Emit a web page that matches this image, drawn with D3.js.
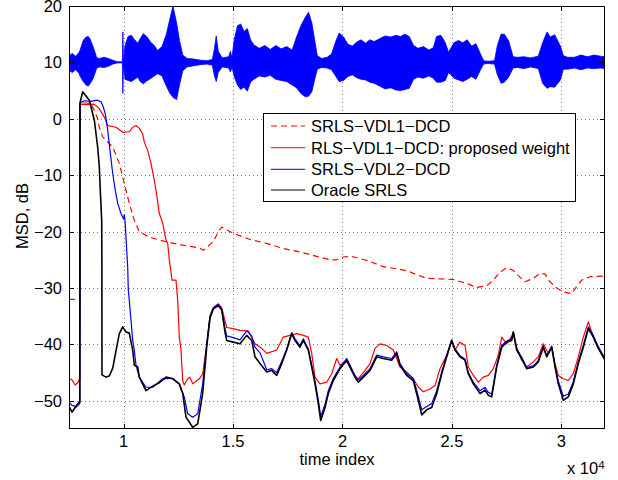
<!DOCTYPE html>
<html>
<head>
<meta charset="utf-8">
<script src="https://cdn.jsdelivr.net/npm/d3@7"></script>
<style>
  body { margin: 0; background: #fff; }
  text { font-family: "Liberation Sans", Arial, Helvetica, sans-serif; fill: #000; }
</style>
</head>
<body>
<div id="chart"></div>
<script>
// ---- data ----
var xTicks = [10000, 15000, 20000, 25000, 30000];
var xTickLabels = ['1', '1.5', '2', '2.5', '3'];
var yTicks = [-50, -40, -30, -20, -10, 0, 10, 20];
var yTickLabels = ['\u221250', '\u221240', '\u221230', '\u221220', '\u221210', '0', '10', '20'];

var legendNames = ['SRLS\u2212VDL1\u2212DCD', 'RLS\u2212VDL1\u2212DCD: proposed weight', 'SRLS\u2212VDL2\u2212DCD', 'Oracle SRLS'];

// speech signal envelope: [time, upper, lower]
var speech = [
	[7500, 11.2, 8.6], [7650, 11.6, 8.2], [7800, 11.1, 8.7], [7950, 11.7, 8.1],
	[8000, 12.1, 7.6], [8150, 13.9, 6.6], [8280, 14.5, 6.0], [8380, 14.6, 5.8], [8460, 14.2, 6.2],
	[8610, 12.7, 7.2], [8770, 10.8, 9.0], [8900, 10.7, 9.2], [9100, 10.9, 9.1], [9300, 10.7, 9.3],
	[9500, 10.4, 9.7], [9700, 10.1, 9.9], [9940, 10.1, 9.9], [9960, 15.4, 4.5], [9990, 10.3, 9.7],
	[10060, 13.0, 7.0], [10200, 14.6, 6.8], [10350, 14.8, 6.6], [10500, 14.0, 7.0], [10650, 13.4, 7.4],
	[10750, 14.2, 6.6], [10900, 15.1, 6.2], [11050, 14.6, 6.7], [11250, 13.5, 7.2], [11400, 13.0, 7.6],
	[11550, 12.1, 8.0], [11750, 12.8, 7.6], [11950, 15.0, 5.8], [12100, 17.5, 4.6], [12250, 20.0, 3.8],
	[12420, 17.0, 3.4], [12550, 13.9, 6.0], [12700, 11.3, 8.5], [12900, 10.7, 9.2], [13200, 10.6, 9.4],
	[13500, 10.4, 9.6], [13800, 10.3, 9.7], [14050, 10.5, 9.5], [14150, 12.5, 7.6], [14230, 14.7, 6.6],
	[14320, 12.0, 8.2], [14500, 10.8, 9.2], [14800, 11.0, 9.0], [14880, 12.0, 8.3], [14950, 10.8, 9.2],
	[15050, 14.0, 7.5], [15200, 16.5, 6.0], [15350, 16.8, 5.2], [15500, 15.5, 5.6], [15650, 16.0, 4.9],
	[15800, 14.0, 6.5], [15950, 13.1, 7.0], [16200, 12.5, 7.6], [16450, 13.0, 7.4], [16700, 12.3, 7.7],
	[16950, 13.0, 7.0], [17200, 12.4, 6.8], [17450, 12.8, 6.6], [17700, 12.2, 6.0], [17900, 14.5, 5.5],
	[18100, 16.5, 4.5], [18300, 18.0, 3.9], [18450, 18.9, 4.0], [18600, 17.0, 4.8], [18750, 13.5, 7.3],
	[18850, 11.2, 8.8], [19050, 10.7, 9.1], [19300, 10.9, 9.0], [19500, 11.5, 8.7], [19700, 13.8, 7.5],
	[19850, 15.2, 6.6], [20050, 14.5, 6.8], [20250, 13.2, 7.5], [20450, 12.9, 7.8], [20650, 13.6, 7.3],
	[20850, 14.0, 7.0], [21050, 13.4, 6.9], [21250, 14.0, 6.5], [21450, 13.7, 6.3], [21700, 14.2, 5.8],
	[21950, 14.7, 5.3], [22200, 14.5, 5.5], [22450, 14.8, 5.1], [22650, 14.6, 5.0], [22850, 15.0, 5.2],
	[23050, 14.6, 5.4], [23250, 13.0, 7.0], [23450, 12.5, 7.4], [23700, 12.8, 7.2], [23950, 12.2, 7.6],
	[24150, 12.6, 7.2], [24300, 14.6, 6.5], [24500, 14.8, 6.5], [24700, 13.5, 6.8], [24850, 11.8, 8.2],
	[24950, 12.5, 7.8], [25100, 13.5, 7.2], [25300, 13.9, 6.9], [25500, 13.5, 6.6], [25700, 14.0, 7.0],
	[25900, 12.9, 7.5], [26100, 13.3, 7.0], [26300, 11.6, 8.6], [26450, 10.3, 9.7], [26650, 10.2, 9.8],
	[26950, 10.3, 9.7], [27080, 13.0, 7.8], [27250, 15.0, 6.3], [27400, 15.0, 6.5], [27600, 13.8, 7.4],
	[27800, 11.0, 9.0], [28000, 10.9, 9.1], [28300, 11.0, 8.9], [28600, 10.8, 9.2], [28950, 11.1, 8.9],
	[29150, 13.5, 6.3], [29350, 15.4, 5.4], [29500, 14.5, 5.7], [29700, 14.9, 5.6], [29950, 13.0, 6.8],
	[30100, 11.2, 8.8], [30300, 10.9, 8.8], [30600, 10.9, 9.0], [30900, 11.3, 8.7], [31200, 11.0, 9.0],
	[31500, 11.3, 8.9], [31800, 11.1, 9.0], [32000, 11.0, 8.9]
];

// SRLS-VDL1-DCD (red dashed): [time, MSD dB]
var srlsVdl1 = [
	[7500, -32.0], [7995, -32.0], [8003, 2.8], [8300, 2.8], [8500, 2.7], [8656, 1.5], [8812, 0.0],
	[8885, -1.5], [9040, -3.2], [9191, -3.8], [9498, -5.0], [9799, -7.9], [10028, -11.5], [10256, -15.0],
	[10485, -18.0], [10713, -20.0], [11171, -21.0], [11934, -21.8], [12697, -22.4], [13456, -22.9],
	[13639, -23.3], [14096, -21.8], [14325, -20.0], [14480, -19.2], [14709, -19.7], [15010, -20.3],
	[15774, -21.4], [16537, -22.1], [17296, -23.0], [18059, -23.6], [18823, -24.4], [19430, -25.0],
	[19737, -25.0], [20038, -24.5], [20422, -24.4], [21108, -25.1], [21867, -26.2], [22630, -26.7],
	[23010, -27.0], [23238, -27.4], [23851, -28.3], [24609, -28.4], [25066, -28.5], [25679, -29.2],
	[26136, -29.9], [26593, -29.6], [26895, -28.6], [27201, -27.2], [27507, -26.4], [27809, -26.9],
	[28037, -27.8], [28343, -28.9], [28722, -28.3], [29029, -27.4], [29258, -27.5], [29486, -28.9],
	[29792, -30.0], [30094, -30.7], [30478, -31.0], [30707, -29.7], [30935, -28.6], [31315, -28.0],
	[31923, -27.9], [32000, -27.9]
];

// RLS-VDL1-DCD: proposed weight (red solid)
var rlsVdl1 = [
	[7500, -46.0], [7640, -46.3], [7780, -47.2], [7900, -46.8], [7995, -46.0], [8003, 2.6], [8300, 2.5],
	[8650, 2.6], [8734, 2.3], [8885, 1.8], [9114, 0.3], [9269, -1.2], [9648, -1.5], [9955, -2.4],
	[10256, -2.3], [10412, -1.5], [10563, -1.2], [10713, -1.7], [10869, -2.7], [10942, -4.1],
	[11097, -5.6], [11248, -7.9], [11399, -10.9], [11509, -13.5], [11628, -16.8], [11783, -18.5],
	[11934, -21.5], [12012, -22.1], [12085, -25.0], [12208, -28.6], [12391, -28.6], [12469, -32.2],
	[12542, -38.7], [12620, -41.0], [12697, -46.4], [12770, -47.2], [12926, -46.1], [13031, -45.8],
	[13154, -47.0], [13456, -46.1], [13611, -45.2], [13762, -41.0], [13945, -35.0], [14096, -33.5],
	[14325, -32.8], [14480, -33.5], [14709, -37.0], [15010, -37.2], [15316, -37.5], [15696, -37.6],
	[16002, -39.9], [16308, -40.7], [16537, -41.6], [16994, -41.0], [17296, -38.7], [17602, -38.4],
	[17908, -38.1], [18210, -38.4], [18439, -38.7], [18594, -41.6], [18745, -45.8], [18973, -47.0],
	[19279, -46.7], [19508, -45.2], [19737, -42.5], [19888, -43.7], [20194, -43.0], [20495, -45.2],
	[20651, -46.4], [20953, -45.0], [21259, -43.4], [21487, -40.7], [21716, -39.9], [22022, -40.2],
	[22324, -41.0], [22630, -44.0], [22937, -44.9], [23238, -46.1], [23467, -47.6], [23695, -48.4],
	[24001, -47.9], [24230, -47.3], [24458, -44.3], [24765, -41.9], [24993, -39.3], [25144, -41.0],
	[25373, -39.6], [25601, -40.2], [25752, -44.0], [25981, -45.5], [26209, -46.7], [26437, -45.8],
	[26666, -45.5], [26895, -44.3], [27123, -41.9], [27278, -38.7], [27507, -39.9], [27809, -38.1],
	[27964, -40.5], [28192, -42.8], [28421, -44.0], [28722, -43.1], [28951, -42.2], [29180, -39.9],
	[29409, -41.6], [29564, -40.5], [29715, -43.4], [29865, -45.5], [30094, -46.1], [30323, -46.4],
	[30551, -45.2], [30780, -42.2], [31008, -38.7], [31237, -36.0], [31466, -38.7], [31695, -40.5],
	[32000, -42.5]
];

// SRLS-VDL2-DCD (blue)
var srlsVdl2 = [
	[7500, -50.3], [7640, -50.8], [7800, -51.0], [7995, -50.0], [8003, 2.8], [8200, 3.2], [8500, 3.1],
	[8800, 3.3], [8963, 3.0], [9040, 2.4], [9159, 0.9], [9269, -2.0], [9374, -5.6], [9498, -9.7],
	[9616, -12.7], [9726, -15.0], [9877, -16.8], [10000, -17.8], [10028, -17.0], [10060, -18.0],
	[10106, -21.0], [10183, -26.3], [10211, -30.4], [10256, -32.2], [10334, -35.7], [10412, -39.3],
	[10485, -41.0], [10563, -43.7], [10713, -45.8], [11020, -47.6], [11326, -47.6], [11783, -46.1],
	[12240, -46.0], [12542, -47.0], [12770, -49.3], [12926, -52.3], [13154, -52.9], [13383, -52.3],
	[13611, -47.0], [13762, -41.1], [13945, -35.0], [14096, -33.5], [14325, -32.9], [14480, -33.7],
	[14631, -37.2], [14709, -38.5], [15010, -38.8], [15316, -39.2], [15623, -37.6], [15851, -38.5],
	[16002, -40.5], [16231, -41.5], [16368, -42.8], [16537, -44.5], [16766, -44.3], [16994, -45.0],
	[17223, -43.0], [17452, -40.8], [17680, -37.9], [17831, -39.0], [18059, -40.2], [18210, -39.0],
	[18439, -40.8], [18594, -43.7], [18745, -46.5], [18896, -49.8], [19005, -52.8], [19202, -50.6],
	[19353, -48.2], [19581, -46.0], [19888, -44.0], [20194, -42.5], [20422, -44.3], [20573, -45.5],
	[20724, -46.3], [20953, -45.5], [21259, -44.3], [21565, -41.9], [21867, -42.2], [22251, -42.5],
	[22479, -41.3], [22630, -43.4], [22937, -45.2], [23238, -46.0], [23467, -49.2], [23622, -51.6],
	[23851, -51.0], [24079, -50.5], [24308, -48.2], [24536, -44.9], [24765, -41.9], [24993, -39.2],
	[25144, -40.8], [25373, -42.0], [25601, -42.6], [25752, -45.0], [25981, -46.7], [26287, -48.2],
	[26515, -47.6], [26666, -48.5], [26822, -48.8], [27050, -43.7], [27278, -40.2], [27507, -39.4],
	[27735, -39.0], [27809, -37.8], [27964, -40.8], [28192, -42.3], [28421, -44.1], [28722, -43.8],
	[28951, -42.9], [29180, -40.3], [29336, -42.0], [29564, -40.3], [29715, -43.7], [29865, -46.5],
	[30094, -49.2], [30323, -48.8], [30551, -46.6], [30780, -43.1], [31008, -40.2], [31237, -36.9],
	[31466, -38.4], [31695, -40.4], [32000, -42.6]
];

// Oracle SRLS (black)
var oracle = [
	[7500, -51.0], [7640, -52.0], [7780, -51.2], [7950, -50.6], [7995, -50.3], [8003, 2.8], [8126, 4.8],
	[8430, 3.3], [8660, -0.3], [8810, -5.0], [8885, -8.5], [8930, -12.7], [8995, -18.0], [9003, -25.0],
	[9008, -45.4], [9190, -45.8], [9340, -45.6], [9500, -44.2], [9650, -41.1], [9800, -38.1],
	[9955, -36.9], [10106, -37.8], [10256, -38.0], [10412, -41.0], [10485, -43.7], [10640, -44.0],
	[10713, -45.8], [11020, -48.2], [11326, -47.4], [11630, -46.8], [11934, -45.8], [12240, -46.1],
	[12542, -47.0], [12697, -48.7], [12848, -52.9], [13154, -54.7], [13383, -54.1], [13611, -48.7],
	[13794, -40.5], [13945, -35.3], [14096, -33.7], [14325, -33.1], [14480, -33.9], [14631, -37.8],
	[14709, -39.3], [15010, -39.6], [15316, -39.9], [15623, -38.4], [15851, -39.3], [16002, -42.2],
	[16231, -43.4], [16537, -44.9], [16766, -44.6], [16994, -45.5], [17223, -43.4], [17452, -41.0],
	[17680, -38.1], [17831, -39.3], [18059, -40.5], [18210, -39.3], [18439, -41.0], [18594, -44.0],
	[18745, -47.0], [18896, -50.5], [19005, -53.5], [19202, -51.2], [19353, -48.7], [19581, -46.4],
	[19888, -44.3], [20194, -42.8], [20422, -44.6], [20573, -45.8], [20724, -46.7], [20953, -45.8],
	[21259, -44.6], [21565, -42.2], [21867, -42.5], [22251, -42.8], [22479, -41.6], [22630, -43.7],
	[22937, -45.5], [23238, -46.4], [23467, -49.9], [23622, -52.5], [23851, -51.6], [24079, -51.2],
	[24308, -48.7], [24536, -45.2], [24765, -42.2], [24993, -39.3], [25144, -41.0], [25373, -42.2],
	[25601, -42.8], [25752, -45.2], [25981, -47.0], [26287, -48.7], [26515, -48.1], [26666, -49.0],
	[26822, -49.3], [27050, -44.0], [27278, -40.5], [27507, -39.6], [27735, -39.3], [27809, -37.8],
	[27964, -41.0], [28192, -42.5], [28421, -44.3], [28722, -44.0], [28951, -43.1], [29180, -40.5],
	[29336, -42.2], [29564, -40.5], [29715, -44.0], [29865, -47.0], [30094, -49.9], [30323, -49.3],
	[30551, -47.0], [30780, -43.4], [31008, -40.5], [31237, -37.2], [31466, -38.7], [31695, -40.7],
	[32000, -42.8]
];

// ---- layout ----
var W = 618, H = 480;
var pLeft = 69, pRight = 605, pTop = 6, pBottom = 429;

var svg = d3.select('#chart').append('svg')
	.attr('width', W)
	.attr('height', H);

var x = d3.scaleLinear().domain([7500, 32000]).range([pLeft, pRight]);
var y = d3.scaleLinear().domain([-55, 20]).range([pBottom, pTop]);

svg.append('defs').append('clipPath').attr('id', 'plotClip')
	.append('rect')
	.attr('x', pLeft).attr('y', pTop)
	.attr('width', pRight - pLeft).attr('height', pBottom - pTop);

// grid
var grid = svg.append('g').attr('class', 'grid');
grid.selectAll('.gx').data(xTicks).enter().append('line')
	.attr('x1', function(d) { return Math.round(x(d)) + 0.5; })
	.attr('x2', function(d) { return Math.round(x(d)) + 0.5; })
	.attr('y1', pTop).attr('y2', pBottom)
	.attr('stroke', '#777').attr('stroke-width', 1).attr('stroke-dasharray', '1,3');
grid.selectAll('.gy').data(yTicks).enter().append('line')
	.attr('y1', function(d) { return Math.round(y(d)) + 0.5; })
	.attr('y2', function(d) { return Math.round(y(d)) + 0.5; })
	.attr('x1', pLeft).attr('x2', pRight)
	.attr('stroke', '#777').attr('stroke-width', 1).attr('stroke-dasharray', '1,3');

var plot = svg.append('g').attr('clip-path', 'url(#plotClip)');

// speech signal
var speechArea = d3.area()
	.x(function(d) { return x(d[0]); })
	.y0(function(d) { return y(d[2]); })
	.y1(function(d) { return y(d[1]); });
plot.append('path')
	.datum(speech)
	.attr('d', speechArea)
	.attr('fill', '#0000ff')
	.attr('stroke', '#0000ff')
	.attr('stroke-width', 0.8);

var line = d3.line()
	.x(function(d) { return x(d[0]); })
	.y(function(d) { return y(d[1]); });

var series = [
	{ data: srlsVdl1, color: '#ff0000', width: 1.2, dash: '6,4' },
	{ data: rlsVdl1, color: '#ff0000', width: 1.2, dash: null },
	{ data: srlsVdl2, color: '#0000ff', width: 1.2, dash: null },
	{ data: oracle, color: '#000000', width: 1.6, dash: null }
];

series.forEach(function(s) {
	plot.append('path')
		.datum(s.data)
		.attr('d', line)
		.attr('fill', 'none')
		.attr('stroke', s.color)
		.attr('stroke-width', s.width)
		.attr('stroke-linejoin', 'round')
		.attr('stroke-dasharray', s.dash);
});

// axes box
svg.append('rect')
	.attr('x', pLeft + 0.5).attr('y', pTop + 0.5)
	.attr('width', pRight - pLeft - 1).attr('height', pBottom - pTop - 1)
	.attr('fill', 'none').attr('stroke', '#000').attr('stroke-width', 1);

// ticks (inward, all four sides)
var tl = 5;
var ticks = svg.append('g');
xTicks.forEach(function(d) {
	var xx = Math.round(x(d)) + 0.5;
	ticks.append('line').attr('x1', xx).attr('x2', xx).attr('y1', pBottom).attr('y2', pBottom - tl).attr('stroke', '#000');
	ticks.append('line').attr('x1', xx).attr('x2', xx).attr('y1', pTop).attr('y2', pTop + tl).attr('stroke', '#000');
});
yTicks.forEach(function(d) {
	var yy = Math.round(y(d)) + 0.5;
	ticks.append('line').attr('y1', yy).attr('y2', yy).attr('x1', pLeft).attr('x2', pLeft + tl).attr('stroke', '#000');
	ticks.append('line').attr('y1', yy).attr('y2', yy).attr('x1', pRight).attr('x2', pRight - tl).attr('stroke', '#000');
});

// tick labels
svg.selectAll('.xl').data(xTicks).enter().append('text')
	.attr('x', function(d) { return x(d); })
	.attr('y', 447)
	.attr('text-anchor', 'middle')
	.style('font-size', '16.5px')
	.text(function(d, i) { return xTickLabels[i]; });

svg.selectAll('.yl').data(yTicks).enter().append('text')
	.attr('x', 62)
	.attr('y', function(d) { return y(d) + 6; })
	.attr('text-anchor', 'end')
	.style('font-size', '16.5px')
	.text(function(d, i) { return yTickLabels[i]; });

// axis titles
svg.append('text')
	.attr('x', (pLeft + pRight) / 2).attr('y', 465)
	.attr('text-anchor', 'middle')
	.style('font-size', '16.5px')
	.text('time index');

svg.append('text')
	.attr('transform', 'translate(28,216) rotate(-90)')
	.attr('text-anchor', 'middle')
	.style('font-size', '16.5px')
	.text('MSD, dB');

var expo = svg.append('text')
	.attr('x', 567).attr('y', 474)
	.style('font-size', '16.5px');
expo.append('tspan').text('x 10');
expo.append('tspan').attr('dy', -5).style('font-size', '11.5px').text('4');

// legend
var lg = svg.append('g');
lg.append('rect')
	.attr('x', 263.5).attr('y', 113.5)
	.attr('width', 312).attr('height', 88)
	.attr('fill', '#fff').attr('stroke', '#000').attr('stroke-width', 1);
var rowY = [126, 147.7, 169.3, 190];
legendNames.forEach(function(name, i) {
	var s = series[i];
	lg.append('line')
		.attr('x1', 271).attr('x2', 305)
		.attr('y1', rowY[i]).attr('y2', rowY[i])
		.attr('stroke', s.color)
		.attr('stroke-width', 1)
		.attr('stroke-dasharray', s.dash);
	lg.append('text')
		.attr('x', 311).attr('y', rowY[i] + 6)
		.style('font-size', '16.5px')
		.text(name);
});
</script>
</body>
</html>
